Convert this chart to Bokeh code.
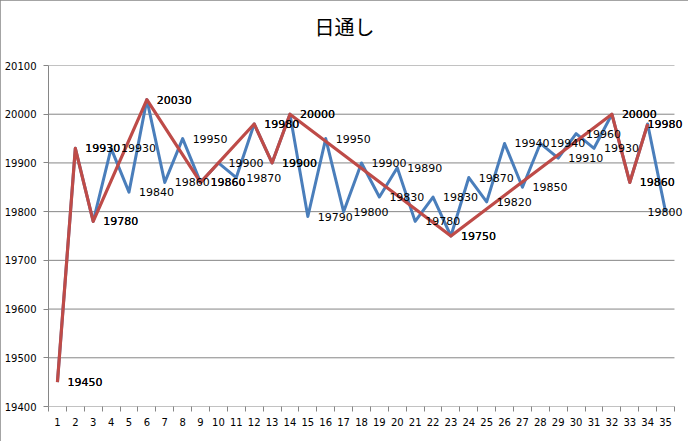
from bokeh.plotting import figure
from bokeh.models import ColumnDataSource, LabelSet, FixedTicker, Range1d, Title
from bokeh.core.properties import value
from bokeh.embed import file_html
from bokeh.resources import INLINE

# ---- data ----
title_text = "日通し"
days = list(range(1, 36))
daily = [19450, 19930, 19780, 19930, 19840, 20030, 19860, 19950, 19860, 19900,
         19870, 19980, 19900, 20000, 19790, 19950, 19800, 19900, 19830, 19890,
         19780, 19830, 19750, 19870, 19820, 19940, 19850, 19940, 19910, 19960,
         19930, 20000, 19860, 19980, 19800]
swing = [19450, 19930, 19780, None, None, 20030, None, None, 19860, None,
         None, 19980, 19900, 20000, None, None, None, None, None, None,
         None, None, 19750, None, None, None, None, None, None, None,
         None, 20000, 19860, 19980, None]
y_ticks = [19400, 19500, 19600, 19700, 19800, 19900, 20000, 20100]
x_labels = [str(d) for d in days]

BLUE = "#4A7EBB"
RED = "#BE4B48"
GRID = "#868686"

x_lo, x_hi = 0.5, 35.5
p = figure(width=688, height=441,
           x_range=Range1d(x_lo, x_hi + 0.56), y_range=Range1d(19400, 20100),
           output_backend="svg", toolbar_location=None,
           min_border_left=48, min_border_right=4,
           min_border_top=65, min_border_bottom=35)
p.outline_line_color = None
p.background_fill_color = "white"
p.border_fill_color = "white"
p.styles = {"outline": "1px solid #868686", "outline-offset": "-1px"}

# spacer panel between the frame and the title
p.add_layout(Title(text=" ", text_font_size="1px", standoff=9), "above")

# title
p.title.text = title_text
p.title.align = "left"
p.title.offset = 266
p.title.vertical_align = "top"
p.title.standoff = 22
p.title.text_font = "Noto Sans CJK JP"
p.title.text_font_size = "20px"
p.title.text_font_style = "normal"
p.title.text_color = "black"

# grid (drawn manually so it stops at the last category)
p.xgrid.visible = False
p.ygrid.visible = False
p.segment(x0=[x_lo] * len(y_ticks), y0=y_ticks, x1=[x_hi] * len(y_ticks), y1=y_ticks,
          line_color=GRID, line_width=1)

# y axis
p.yaxis.ticker = FixedTicker(ticks=y_ticks)
p.yaxis.axis_line_color = GRID
p.yaxis.major_tick_line_color = GRID
p.yaxis.major_tick_out = 5
p.yaxis.major_tick_in = 0
p.yaxis.minor_tick_line_color = None
p.yaxis.major_label_standoff = 7
p.yaxis.major_label_text_font = "DejaVu Sans"
p.yaxis.major_label_text_font_size = "10px"
p.yaxis.major_label_text_color = "black"

# x axis (category style: ticks between categories)
p.xaxis.ticker = FixedTicker(ticks=days, minor_ticks=[x_lo] + [d + 0.5 for d in days])
p.xaxis.major_label_overrides = {d: l for d, l in zip(days, x_labels)}
p.xaxis.axis_line_color = None
p.xaxis.major_tick_line_color = None
p.xaxis.major_tick_out = 5
p.xaxis.major_tick_in = 0
p.xaxis.minor_tick_line_color = GRID
p.xaxis.minor_tick_out = 5
p.xaxis.minor_tick_in = 0
p.xaxis.major_label_standoff = 6
p.xaxis.major_label_text_font = "DejaVu Sans"
p.xaxis.major_label_text_font_size = "10px"
p.xaxis.major_label_text_color = "black"

# lines
p.line(days, daily, line_color=BLUE, line_width=3, line_join="round")
sw_x = [d for d, v in zip(days, swing) if v is not None]
sw_y = [v for v in swing if v is not None]
p.line(sw_x, sw_y, line_color=RED, line_width=3.2, line_join="round")

# data labels
def add_labels(xs, ys):
    left = dict(x=[], y=[], t=[])
    right = dict(x=[], y=[], t=[])
    for d, v in zip(xs, ys):
        if d > 33:
            right["x"].append(x_hi); right["y"].append(v); right["t"].append(str(v))
        else:
            left["x"].append(d); left["y"].append(v); left["t"].append(str(v))
    for src, align, off in ((left, "left", 10), (right, "right", 8)):
        ls = LabelSet(x="x", y="y", text="t", source=ColumnDataSource(src),
                      x_offset=off, y_offset=0, text_align=align,
                      text_baseline="middle", text_font=value("DejaVu Sans"),
                      text_font_size="11px", text_color="black")
        p.add_layout(ls)

add_labels(days, daily)
add_labels(sw_x, sw_y)

open("out.html", "w").write(file_html(p, INLINE))
